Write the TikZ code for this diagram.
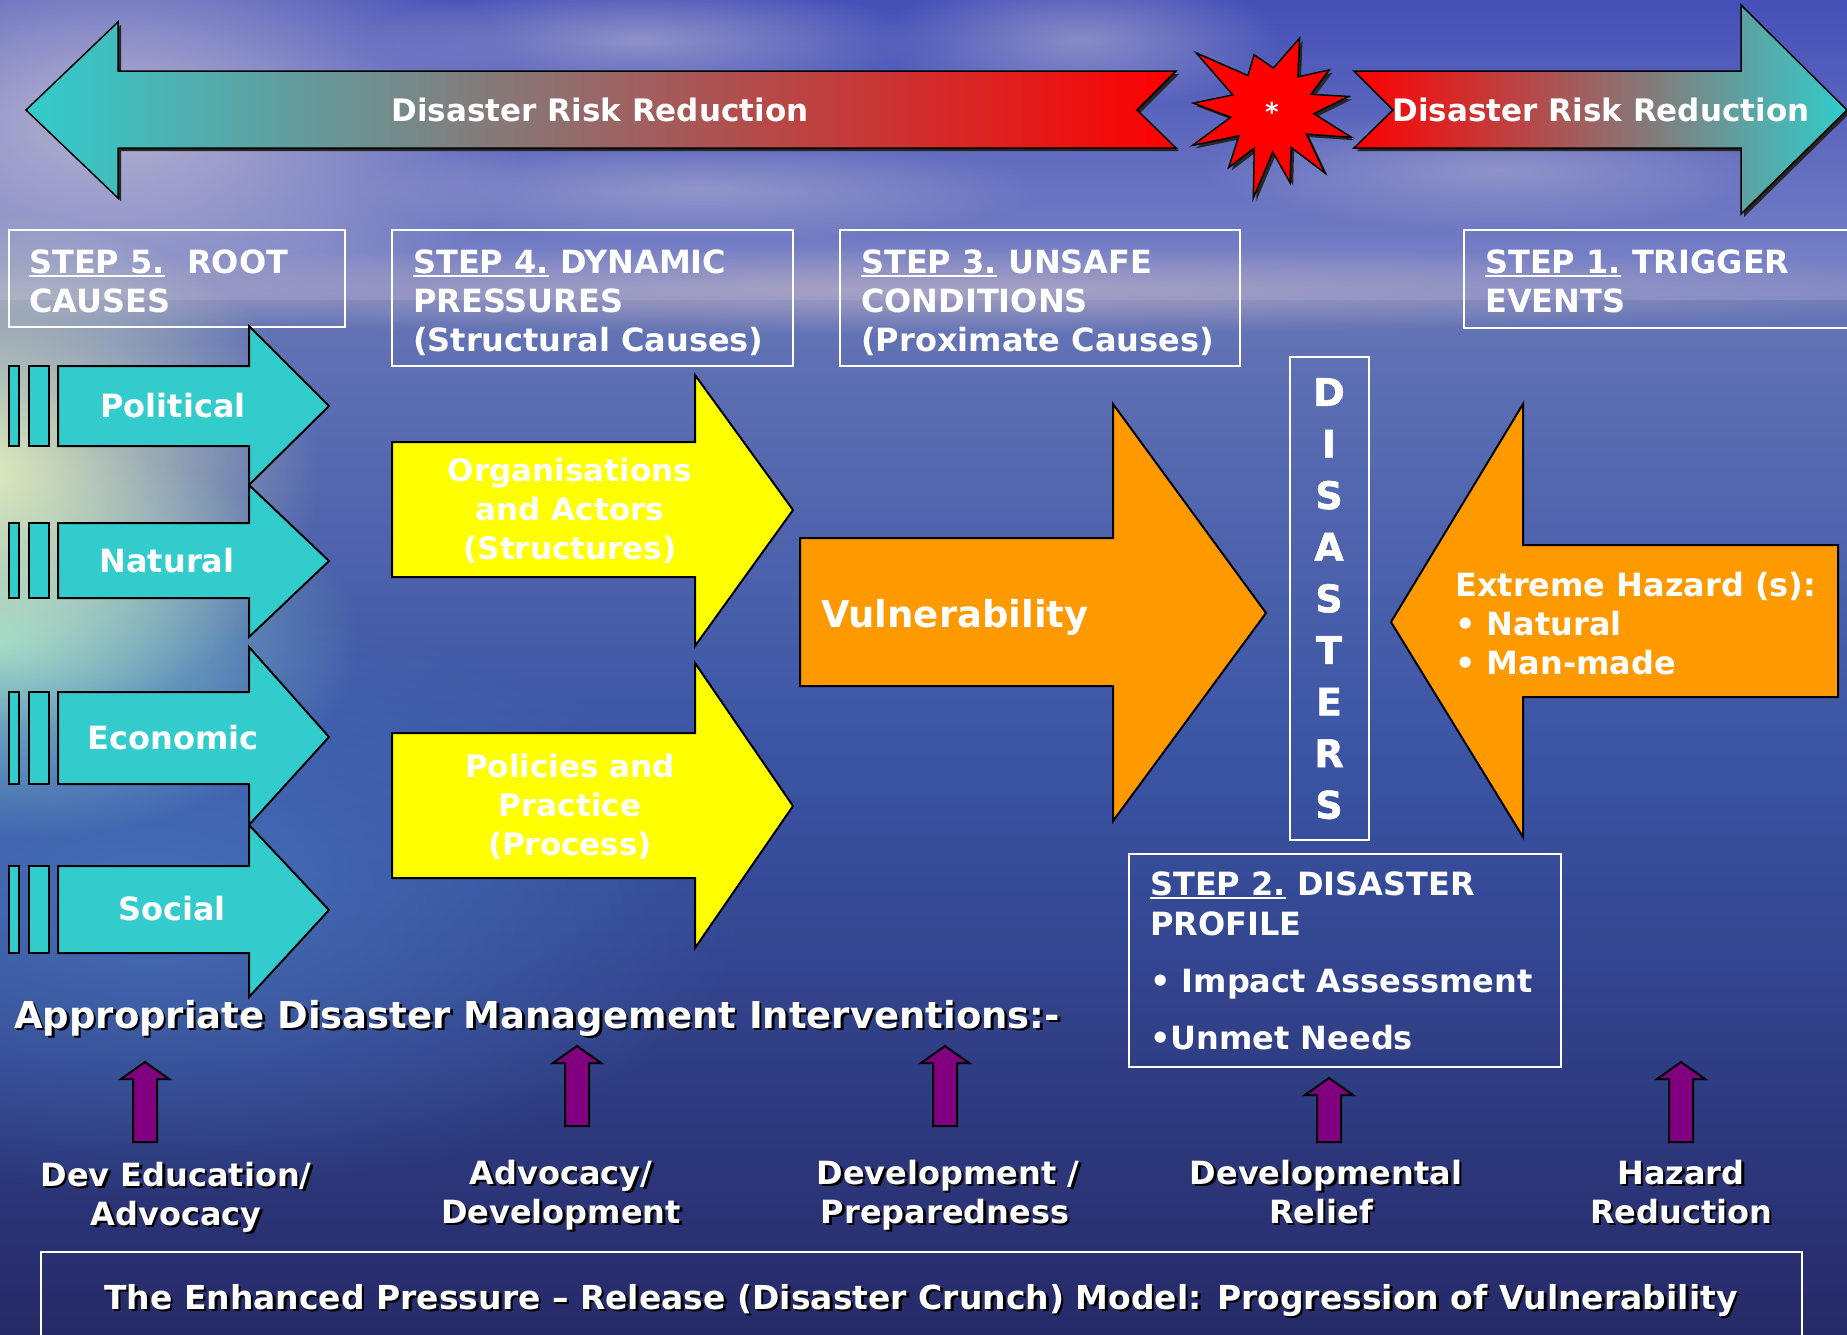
\documentclass[tikz,border=0pt]{standalone}
\usepackage{fontspec}
\setmainfont{DejaVu Sans}
\newfontfamily\heavyfont{DejaVu Sans}[BoldFeatures={FakeBold=1.3}]
\usetikzlibrary{fadings}
\definecolor{cyanA}{HTML}{33CCCC}
\definecolor{yellowA}{HTML}{FFFF00}
\definecolor{orangeA}{HTML}{FF9900}
\definecolor{purpleA}{HTML}{800080}
\definecolor{redA}{HTML}{FF0000}
\definecolor{midA}{HTML}{BC8C8C}
\definecolor{skyT}{HTML}{4550B8}
\definecolor{skyB}{HTML}{7C86C6}
\definecolor{seaT}{HTML}{6474B6}
\definecolor{seaM}{HTML}{3A54A4}
\definecolor{seaB}{HTML}{262A68}
\definecolor{cloudA}{HTML}{C4C0D4}
\definecolor{glowA}{HTML}{E8F4BC}
\definecolor{glowB}{HTML}{8EDCD0}
\definecolor{glowC}{HTML}{4A78C0}
\definecolor{bandA}{HTML}{B0A8C4}
\tikzfading[name=softfade, inner color=transparent!0, outer color=transparent!100]
\newcommand\myul[1]{\setbox0\hbox{#1}\rlap{\rule[-4pt]{\wd0}{2.5pt}}\box0\relax}
\newcommand\rootarr[5]{%
  \draw[cyanshape] (58,#2) -- (249,#2) -- (249,#1) -- (329,#5) -- (249,#4) -- (249,#3) -- (58,#3) -- cycle;
  \draw[cyanshape] (29,#2) rectangle (49,#3);
  \draw[cyanshape] (9,#2) rectangle (19,#3);}
\newcommand\uparr[3]{%
  \draw[purpleshape] (#1,#2) -- (#1+24,#2+17) -- (#1+12,#2+17) -- (#1+12,#3) -- (#1-12,#3) -- (#1-12,#2+17) -- (#1-24,#2+17) -- cycle;}
\newcommand\shtext[4]{%
  \node[txt, text=black, anchor=#3, xshift=2.5pt, yshift=-2.5pt] (#1s) at #2 {#4};
  \node[txt, anchor=#3] (#1) at #2 {#4};}
\begin{document}
\begin{tikzpicture}[x=1pt,y=-1pt,
  txt/.style={text=white, font=\bfseries\fontsize{32}{39}\selectfont, inner sep=0pt},
  stepbox/.style={draw=white, line width=2pt},
  outl/.style={draw=black, line width=2pt, line join=miter},
  cyanshape/.style={outl, fill=cyanA},
  yellowshape/.style={outl, fill=yellowA},
  orangeshape/.style={outl, fill=orangeA},
  purpleshape/.style={outl, fill=purpleA},
  shadowshape/.style={fill=black!85}]
\useasboundingbox (0,0) rectangle (1847,1334);
\clip (0,0) rectangle (1847,1334);
% background
\shade[top color=skyT, bottom color=skyB] (0,0) rectangle (1847,300);
\shade[top color=seaT, bottom color=seaM] (0,300) rectangle (1847,760);
\shade[top color=seaM, bottom color=seaB] (0,760) rectangle (1847,1334);
\fill[cloudA, opacity=0.85, path fading=softfade] (110,120) ellipse [x radius=420pt, y radius=230pt];
\fill[cloudA, opacity=0.55, path fading=softfade] (640,40) ellipse [x radius=280pt, y radius=60pt];
\fill[cloudA, opacity=0.5, path fading=softfade] (1080,40) ellipse [x radius=200pt, y radius=70pt];
\fill[cloudA, opacity=0.45, path fading=softfade] (700,190) ellipse [x radius=350pt, y radius=50pt];
\fill[cloudA, opacity=0.45, path fading=softfade] (1500,170) ellipse [x radius=300pt, y radius=60pt];
\fill[bandA, opacity=0.85, path fading=softfade] (923,290) ellipse [x radius=1200pt, y radius=45pt];
\fill[glowC, opacity=0.8, path fading=softfade] (150,900) ellipse [x radius=600pt, y radius=300pt];
\fill[glowB, opacity=0.9, path fading=softfade] (0,640) ellipse [x radius=360pt, y radius=200pt];
\fill[glowA, opacity=0.95, path fading=softfade] (-20,470) ellipse [x radius=340pt, y radius=260pt];
% top DRR arrows
\fill[shadowshape] (29,113) -- (121,25) -- (121,74) -- (1179,74) -- (1140,113) -- (1179,151) -- (121,151) -- (121,201) -- cycle;
\shade[left color=cyanA, middle color=midA, right color=redA, draw=black, line width=1.5pt]
  (26,110) -- (118,22) -- (118,71) -- (1176,71) -- (1137,110) -- (1176,148) -- (118,148) -- (118,198) -- cycle;
\fill[shadowshape] (1357,74) -- (1744,74) -- (1744,8) -- (1850,113) -- (1744,217) -- (1744,151) -- (1357,151) -- (1396,113) -- cycle;
\shade[left color=redA, middle color=midA, right color=cyanA, draw=black, line width=1.5pt]
  (1354,71) -- (1741,71) -- (1741,5) -- (1847,110) -- (1741,214) -- (1741,148) -- (1354,148) -- (1393,110) -- cycle;
\node[txt, font=\bfseries\fontsize{31}{37}\selectfont] (drrL) at (600,110) {Disaster Risk Reduction};
\node[txt, font=\bfseries\fontsize{31}{37}\selectfont] (drrR) at (1601,110) {Disaster Risk Reduction};
% star
\begin{scope}[shift={(1272,110)}]
\fill[shadowshape, shift={(3,3)}] (-10:78) -- (-22:42) -- (-35:70) -- (-52:42) -- (-69:77) -- (-88:42) -- (-108:58) -- (-125:42) -- (-143:95) -- (-159:42) -- (-175:79) -- (-190:42) -- (-204:87) -- (-218:42) -- (-233:72) -- (-245:42) -- (-258:90) -- (-271:42) -- (-284:75) -- (-297:42) -- (-310:82) -- (-325:42) -- (-341:84) -- (-355:42) -- cycle;
\draw[outl, line width=1.5pt, fill=redA] (-10:78) -- (-22:42) -- (-35:70) -- (-52:42) -- (-69:77) -- (-88:42) -- (-108:58) -- (-125:42) -- (-143:95) -- (-159:42) -- (-175:79) -- (-190:42) -- (-204:87) -- (-218:42) -- (-233:72) -- (-245:42) -- (-258:90) -- (-271:42) -- (-284:75) -- (-297:42) -- (-310:82) -- (-325:42) -- (-341:84) -- (-355:42) -- cycle;
\end{scope}
\node[txt, font=\bfseries\fontsize{26}{30}\selectfont] (star) at (1272,112) {*};
% step boxes
\draw[stepbox] (9,230) rectangle (345,327);
\node[txt, anchor=base west] (s5a) at (29,273) {\myul{STEP 5.}\ \ ROOT};
\node[txt, anchor=base west] (s5b) at (29,312) {CAUSES};
\draw[stepbox] (392,230) rectangle (793,366);
\node[txt, anchor=base west] (s4a) at (413,273) {\myul{STEP 4.} DYNAMIC};
\node[txt, anchor=base west] (s4b) at (413,312) {PRESSURES};
\node[txt, anchor=base west] (s4c) at (413,351) {(Structural Causes)};
\draw[stepbox] (840,230) rectangle (1240,366);
\node[txt, anchor=base west] (s3a) at (861,273) {\myul{STEP 3.} UNSAFE};
\node[txt, anchor=base west] (s3b) at (861,312) {CONDITIONS};
\node[txt, anchor=base west] (s3c) at (861,351) {(Proximate Causes)};
\draw[stepbox] (1464,230) rectangle (1851,328);
\node[txt, anchor=base west] (s1a) at (1485,273) {\myul{STEP 1.} TRIGGER};
\node[txt, anchor=base west] (s1b) at (1485,312) {EVENTS};
% root cause arrows
\rootarr{326}{366}{446}{485}{406}
\rootarr{485}{523}{598}{637}{561}
\rootarr{647}{692}{784}{825}{737}
\rootarr{825}{866}{953}{997}{910}
\node[txt] (pol) at (173,406) {Political};
\node[txt] (nat) at (167,561) {Natural};
\node[txt] (eco) at (173,738) {Economic};
\node[txt] (soc) at (172,909) {Social};
% yellow arrows
\draw[yellowshape] (392,442) -- (695,442) -- (695,375) -- (793,510) -- (695,646) -- (695,577) -- (392,577) -- cycle;
\draw[yellowshape] (392,733) -- (695,733) -- (695,663) -- (793,806) -- (695,948) -- (695,878) -- (392,878) -- cycle;
\node[txt, align=center, font=\bfseries\fontsize{31}{39}\selectfont] (org) at (570,511) {Organisations\\and Actors\\(Structures)};
\node[txt, align=center, font=\bfseries\fontsize{31}{39}\selectfont] (pol2) at (570,807) {Policies and\\Practice\\(Process)};
% vulnerability arrow
\draw[orangeshape] (800,538) -- (1113,538) -- (1113,404) -- (1266,613) -- (1113,821) -- (1113,686) -- (800,686) -- cycle;
\node[txt, anchor=base west, font=\bfseries\fontsize{37}{44}\selectfont] (vul) at (821,627) {Vulnerability};
% disasters
\draw[stepbox] (1290,357) rectangle (1369,840);
\foreach \L [count=\i] in {D,I,S,A,S,T,E,R,S}
  \node[txt, font=\heavyfont\bfseries\fontsize{38}{40}\selectfont] (dis\i) at (1329,392+51.6*\i-51.6) {\L};
% hazard arrow
\draw[orangeshape] (1391,622) -- (1523,404) -- (1523,545) -- (1838,545) -- (1838,697) -- (1523,697) -- (1523,837) -- cycle;
\node[txt, anchor=base west] (hz1) at (1455,596) {Extreme Hazard (s):};
\node[txt, anchor=base west] (hz2) at (1455,635) {\textbullet\ Natural};
\node[txt, anchor=base west] (hz3) at (1455,674) {\textbullet\ Man-made};
% step 2
\draw[stepbox] (1129,854) rectangle (1561,1067);
\node[txt, anchor=base west] (s2a) at (1150,895) {\myul{STEP 2.} DISASTER};
\node[txt, anchor=base west] (s2b) at (1150,935) {PROFILE};
\node[txt, anchor=base west] (s2c) at (1150,992) {\textbullet\ Impact Assessment};
\node[txt, anchor=base west] (s2d) at (1150,1049) {\textbullet Unmet Needs};
% interventions
\shtext{adm}{(14,1028)}{base west}{\fontsize{37}{44}\selectfont Appropriate Disaster Management Interventions:-}
\uparr{145}{1062}{1142}
\uparr{577}{1046}{1126}
\uparr{945}{1046}{1126}
\uparr{1329}{1078}{1142}
\uparr{1681}{1062}{1142}
\shtext{la}{(176,1186)}{base}{Dev Education/}
\shtext{lb}{(176,1225)}{base}{Advocacy}
\shtext{lc}{(561,1184)}{base}{Advocacy/}
\shtext{ld}{(561,1223)}{base}{Development}
\shtext{le}{(948,1184)}{base}{Development /}
\shtext{lf}{(945,1223)}{base}{Preparedness}
\shtext{lg}{(1326,1184)}{base}{Developmental}
\shtext{lh}{(1321,1223)}{base}{Relief}
\shtext{li}{(1681,1184)}{base}{Hazard}
\shtext{lj}{(1681,1223)}{base}{Reduction}
% title
\draw[stepbox] (41,1252) rectangle (1802,1345);
\shtext{title}{(921,1309)}{base}{\fontsize{33}{40}\selectfont The Enhanced Pressure – Release (Disaster Crunch) Model: Progression of Vulnerability}
\end{tikzpicture}
\end{document}
